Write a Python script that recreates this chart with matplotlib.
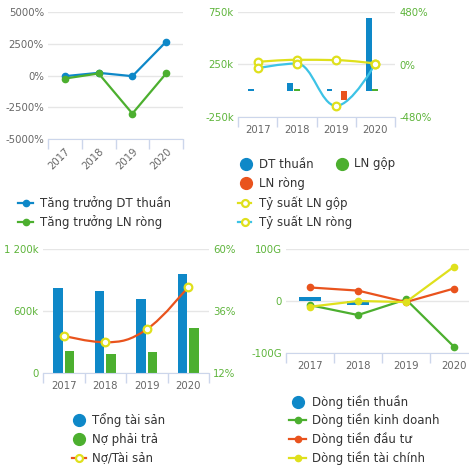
import numpy as np
import matplotlib.pyplot as plt
from matplotlib.path import Path
from matplotlib.patches import PathPatch
from matplotlib.lines import Line2D

plt.switch_backend('agg')

# ---- data ----
years = ['2017', '2018', '2019', '2020']

# growth (%)
growth_dt = [-53, 210, -53, 2660]
growth_ln = [-240, 160, -3000, 160]

# income (k) and margins (%)
dt_thuan = [18, 71, 18, 697]
ln_gop = [np.nan, 18, np.nan, 18]
ln_rong = [np.nan, np.nan, -87, np.nan]
ty_suat_gop = [24, 43, 40, 9]
ty_suat_rong = [-34, 9, -378, 9]

# balance sheet (k) and ratio (%)
tong_tai_san = [822, 793, 716, 958]
no_phai_tra = [213, 184, 203, 435]
no_tai_san = [26.4, 23.9, 28.9, 45.4]

# cash flows (G)
dong_tien_thuan = [7, -7, 0, 0]
dt_kinh_doanh = [-8, -27, 3, -88]
dt_dau_tu = [26, 20, -2, 24]
dt_tai_chinh = [-11, 0, -2, 66]

BLUE = '#0e88c8'
GREEN = '#4caf2f'
ORANGE = '#e9531d'
YELLOW = '#dfe01c'
CYAN = '#3dc3e6'
LBL_GREEN = '#5db43a'
GRID = '#e6e6e6'
AXIS = '#ccd6eb'
TXT = '#666666'
FS = 7.3
LW = 1.6

W = 469.0


def px_axes(fig, left, top, right, bottom):
    return fig.add_axes([left / W, 1 - bottom / W, (right - left) / W, (bottom - top) / W])


def style_axes(ax, ylim, yticks, ylabels, ycolor, rotate=False):
    x = np.arange(len(years))
    ax.set_xlim(-0.5, len(years) - 0.5)
    ax.set_ylim(*ylim)
    ax.set_yticks(yticks)
    ax.set_yticklabels(ylabels)
    ax.tick_params(axis='y', length=0, labelsize=FS, labelcolor=ycolor, pad=3)
    ax.set_xticks(np.arange(len(years) + 1) - 0.5)
    ax.set_xticklabels([])
    ax.set_xticks(x, minor=True)
    if rotate:
        ax.set_xticklabels(years, minor=True, rotation=45, ha='right', va='top',
                           rotation_mode='anchor')
    else:
        ax.set_xticklabels(years, minor=True)
    ax.tick_params(axis='x', which='major', length=7, color=AXIS, width=1)
    ax.tick_params(axis='x', which='minor', length=0, labelsize=FS, labelcolor=TXT, pad=6)
    for s in ['top', 'left', 'right']:
        ax.spines[s].set_visible(False)
    ax.spines['bottom'].set_color(AXIS)
    ax.grid(axis='y', color=GRID, lw=1)
    ax.set_axisbelow(True)


def clean_twin(ax2, ylim, yticks, ylabels):
    ax2.set_ylim(*ylim)
    ax2.set_yticks(yticks)
    ax2.set_yticklabels(ylabels)
    ax2.tick_params(axis='y', length=0, labelsize=FS, labelcolor=LBL_GREEN, pad=3)
    for s in ax2.spines.values():
        s.set_visible(False)


def spline(ax, xs, ys, **kw):
    # highcharts-like smooth curve through the points
    xs = list(xs)
    ys = list(ys)
    n = len(xs)
    sm = 1.5
    left = [None] * n
    right = [None] * n
    for i in range(n):
        if i == 0 or i == n - 1:
            left[i] = (xs[i], ys[i])
            right[i] = (xs[i], ys[i])
            continue
        lx = (sm * xs[i] + xs[i - 1]) / (sm + 1)
        ly = (sm * ys[i] + ys[i - 1]) / (sm + 1)
        rx = (sm * xs[i] + xs[i + 1]) / (sm + 1)
        ry = (sm * ys[i] + ys[i + 1]) / (sm + 1)
        corr = ((ry - ly) * (rx - xs[i])) / (rx - lx) + ys[i] - ry
        ly += corr
        ry += corr
        py, lasty, nexty = ys[i], ys[i - 1], ys[i + 1]
        if ly > lasty and ly > py:
            ly = max(lasty, py)
            ry = 2 * py - ly
        elif ly < lasty and ly < py:
            ly = min(lasty, py)
            ry = 2 * py - ly
        if ry > nexty and ry > py:
            ry = max(nexty, py)
            ly = 2 * py - ry
        elif ry < nexty and ry < py:
            ry = min(nexty, py)
            ly = 2 * py - ry
        left[i] = (lx, ly)
        right[i] = (rx, ry)
    verts = [(xs[0], ys[0])]
    codes = [Path.MOVETO]
    for i in range(1, n):
        verts += [right[i - 1], left[i], (xs[i], ys[i])]
        codes += [Path.CURVE4] * 3
    ax.add_patch(PathPatch(Path(verts, codes), fill=False, **kw))


fig = plt.figure(figsize=(4.69, 4.69), dpi=100)
x = np.arange(len(years))

# ---- panel 1: growth ----
ax1 = px_axes(fig, 48, 12, 183, 139)
style_axes(ax1, (-5000, 5000), [-5000, -2500, 0, 2500, 5000],
           ['-5000%', '-2500%', '0%', '2500%', '5000%'], TXT, rotate=True)
ax1.tick_params(axis='x', which='minor', pad=5)
ax1.plot(x, growth_dt, color=BLUE, lw=LW, marker='o', ms=4.5, zorder=3)
ax1.plot(x, growth_ln, color=GREEN, lw=LW, marker='o', ms=4.5, zorder=3)

# ---- panel 2: income ----
ax2 = px_axes(fig, 238, 12, 395, 117)
style_axes(ax2, (-250, 750), [-250, 250, 750], ['-250k', '250k', '750k'], LBL_GREEN)
bw = 0.15
ax2.bar(x - 0.17, dt_thuan, bw, color=BLUE, zorder=2)
ax2.bar(x, ln_gop, bw, color=GREEN, zorder=2)
ax2.bar(x + 0.19, ln_rong, bw, color=ORANGE, zorder=2)
ax2b = ax2.twinx()
clean_twin(ax2b, (-480, 480), [-480, 0, 480], ['-480%', '0%', '480%'])
spline(ax2b, x, ty_suat_gop, edgecolor=YELLOW, lw=LW, zorder=3)
spline(ax2b, x, ty_suat_rong, edgecolor=CYAN, lw=LW, zorder=3)
ax2b.plot(x, ty_suat_gop, ls='none', marker='o', ms=5.5, mfc='white', mec=YELLOW, mew=1.6, zorder=4)
ax2b.plot(x, ty_suat_rong, ls='none', marker='o', ms=5.5, mfc='white', mec=YELLOW, mew=1.6, zorder=4)

# ---- panel 3: balance ----
ax3 = px_axes(fig, 43, 249, 209, 373)
style_axes(ax3, (0, 1200), [0, 600, 1200], ['0', '600k', '1 200k'], LBL_GREEN)
ax3.bar(x - 0.14, tong_tai_san, 0.22, color=BLUE, zorder=2)
ax3.bar(x + 0.14, no_phai_tra, 0.22, color=GREEN, zorder=2)
ax3b = ax3.twinx()
clean_twin(ax3b, (12, 60), [12, 36, 60], ['12%', '36%', '60%'])
spline(ax3b, x, no_tai_san, edgecolor=ORANGE, lw=LW, zorder=3)
ax3b.plot(x, no_tai_san, ls='none', marker='o', ms=5.5, mfc='white', mec=YELLOW, mew=1.6, zorder=4)

# ---- panel 4: cash flow ----
ax4 = px_axes(fig, 286, 249, 478, 353)
style_axes(ax4, (-100, 100), [-100, 0, 100], ['-100G', '0', '100G'], LBL_GREEN)
ax4.bar(x, dong_tien_thuan, 0.45, color=BLUE, zorder=2)
ax4.plot(x, dt_kinh_doanh, color=GREEN, lw=LW, marker='o', ms=4.5, zorder=3)
ax4.plot(x, dt_dau_tu, color=ORANGE, lw=LW, marker='o', ms=4.5, zorder=3)
ax4.plot(x, dt_tai_chinh, color=YELLOW, lw=LW, marker='o', ms=4.5, zorder=3)


# ---- legends (drawn in figure pixels) ----
def leg_text(xp, yp, s):
    fig.text(xp / W, 1 - yp / W, s, fontsize=8.5, color='#333333', va='center', ha='left')


def leg_dot(xp, yp, color):
    fig.add_artist(Line2D([xp / W], [1 - yp / W], transform=fig.transFigure,
                          marker='o', ms=8.5, color=color, ls='none'))


def leg_line(x0, x1, yp, color, hollow=False):
    fig.add_artist(Line2D([x0 / W, x1 / W], [1 - yp / W] * 2, transform=fig.transFigure,
                          color=color, lw=LW))
    if hollow:
        fig.add_artist(Line2D([(x0 + x1) / 2 / W], [1 - yp / W], transform=fig.transFigure,
                              marker='o', ms=5, mfc='white', mec=YELLOW, mew=1.6, ls='none'))
    else:
        fig.add_artist(Line2D([(x0 + x1) / 2 / W], [1 - yp / W], transform=fig.transFigure,
                              marker='o', ms=4.5, color=color, ls='none'))


leg_line(18, 33, 203, BLUE)
leg_text(40, 203, 'Tăng trưởng DT thuần')
leg_line(18, 33, 222, GREEN)
leg_text(40, 222, 'Tăng trưởng LN ròng')

leg_dot(246, 164, BLUE)
leg_text(259, 164, 'DT thuần')
leg_dot(342, 164, GREEN)
leg_text(354, 164, 'LN gộp')
leg_dot(246, 183, ORANGE)
leg_text(259, 183, 'LN ròng')
leg_line(238, 251, 203, YELLOW, hollow=True)
leg_text(259, 203, 'Tỷ suất LN gộp')
leg_line(238, 251, 222, CYAN, hollow=True)
leg_text(259, 222, 'Tỷ suất LN ròng')

leg_dot(79, 420, BLUE)
leg_text(92, 420, 'Tổng tài sản')
leg_dot(79, 439, GREEN)
leg_text(92, 439, 'Nợ phải trả')
leg_line(72, 86, 458, ORANGE, hollow=True)
leg_text(92, 458, 'Nợ/Tài sản')

leg_dot(298, 402, BLUE)
leg_text(312, 402, 'Dòng tiền thuần')
leg_line(289, 306, 420, GREEN)
leg_text(312, 420, 'Dòng tiền kinh doanh')
leg_line(289, 306, 439, ORANGE)
leg_text(312, 439, 'Dòng tiền đầu tư')
leg_line(289, 306, 458, YELLOW)
leg_text(312, 458, 'Dòng tiền tài chính')

fig.savefig('out.png', dpi=100)
